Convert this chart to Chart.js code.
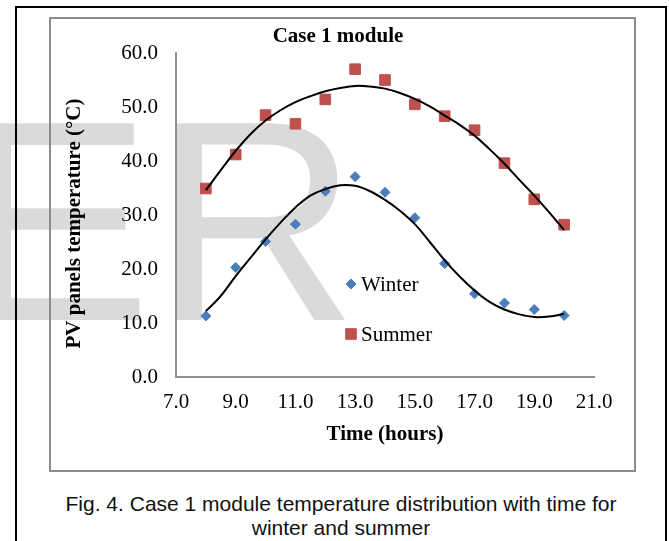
<!DOCTYPE html>
<html>
<head>
<meta charset="utf-8">
<script src="https://cdn.jsdelivr.net/npm/chart.js@4.4.1/dist/chart.umd.min.js"></script>
<style>
  html, body { margin: 0; padding: 0; background: #fff; width: 669px; height: 541px; overflow: hidden; }
  #mark { position: absolute; left: -39px; top: 78px; font: 286px/1 "Liberation Sans", Arial, sans-serif; color: #dadada; white-space: nowrap; z-index: 0; }
  #outer { position: absolute; left: 15px; top: 6px; width: 648px; height: 600px; border: 2px solid #000; z-index: 2; }
  #inner { position: absolute; left: 49px; top: 17px; width: 583px; height: 451px; border: 2px solid #8c8c8c; z-index: 2; }
  #chart { position: absolute; left: 0; top: 0; }
  .cap { position: absolute; left: 0; width: 682px; text-align: center; font: 21px "Liberation Sans", Arial, sans-serif; color: #111; z-index: 2; white-space: nowrap; }
</style>
</head>
<body>
<div id="mark">ER</div>
<div id="outer"></div>
<div id="inner"><canvas id="chart" width="583" height="451"></canvas></div>
<div class="cap" style="top:492px">Fig. 4. Case 1 module temperature distribution with time for</div>
<div class="cap" style="top:516px">winter and summer</div>
<script>
// hours of the day
const hours = [8, 9, 10, 11, 12, 13, 14, 15, 16, 17, 18, 19, 20];
// measured module temperature (°C)
const winterTemp = [11.3, 20.3, 25.1, 28.3, 34.4, 37.1, 34.2, 29.5, 21.0, 15.4, 13.7, 12.5, 11.4];
const summerTemp = [34.9, 41.2, 48.5, 46.9, 51.4, 57.0, 55.0, 50.5, 48.3, 45.7, 39.6, 32.9, 28.2];
// trend lines, every half hour
const trendHours = [8, 8.5, 9, 9.5, 10, 10.5, 11, 11.5, 12, 12.5, 13, 13.5, 14, 14.5, 15, 15.5, 16, 16.5, 17, 17.5, 18, 18.5, 19, 19.5, 20];
const winterTrend = [12.2, 15.0, 18.7, 22.1, 25.5, 28.6, 31.4, 33.6, 34.8, 35.5, 35.4, 34.4, 32.8, 30.8, 28.3, 25.0, 21.6, 18.6, 16.0, 13.9, 12.5, 11.6, 11.1, 11.2, 11.7];
const summerTrend = [34.6, 38.3, 41.9, 45.0, 47.5, 49.4, 50.9, 52.0, 52.9, 53.5, 53.9, 53.8, 53.4, 52.6, 51.5, 50.1, 48.4, 46.7, 44.7, 42.2, 39.5, 36.5, 33.6, 30.5, 27.2];
const xTicks = [7, 9, 11, 13, 15, 17, 19, 21];
const yTicks = [0, 10, 20, 30, 40, 50, 60];

const Colors = { winter: '#4a7ebb', summer: '#c0504d', trend: '#000', axis: '#8f8f8f' };
const serif = "'Liberation Serif', 'Times New Roman', serif";

const pts = (xs, ys) => xs.map((h, i) => ({ x: h, y: ys[i] }));

// title, y axis title and the in-plot legend
const extras = {
  id: 'extras',
  afterDraw(chart) {
    const ctx = chart.ctx;
    ctx.save();
    ctx.fillStyle = '#000';
    ctx.font = 'bold 21px ' + serif;
    ctx.textAlign = 'center';
    ctx.textBaseline = 'middle';
    ctx.fillText('Case 1 module', 287, 18);

    ctx.save();
    ctx.translate(23.5, 204.5);
    ctx.rotate(-Math.PI / 2);
    ctx.fillText('PV panels temperature (°C)', 0, 0);
    ctx.restore();

    const items = [
      { label: 'Winter', style: 'rectRot', r: 5, color: Colors.winter, y: 265 },
      { label: 'Summer', style: 'rect', r: 7.5, color: Colors.summer, y: 315 }
    ];
    ctx.font = '21px ' + serif;
    ctx.textAlign = 'left';
    items.forEach(it => {
      ctx.fillStyle = it.color;
      ctx.strokeStyle = it.color;
      ctx.lineWidth = 1;
      Chart.helpers.drawPoint(ctx, { pointStyle: it.style, radius: it.r, rotation: 0, borderWidth: 1 }, 300, it.y);
      ctx.fillStyle = '#000';
      ctx.fillText(it.label, 310, it.y + 1);
    });
    ctx.restore();
  }
};

new Chart(document.getElementById('chart'), {
  type: 'scatter',
  data: {
    datasets: [
      { label: 'Winter', data: pts(hours, winterTemp), pointStyle: 'rectRot', pointRadius: 5, pointHoverRadius: 5,
        backgroundColor: Colors.winter, borderColor: Colors.winter, borderWidth: 1, showLine: false, order: 1 },
      { label: 'Summer', data: pts(hours, summerTemp), pointStyle: 'rect', pointRadius: 7.5, pointHoverRadius: 7.5,
        backgroundColor: Colors.summer, borderColor: Colors.summer, borderWidth: 1, showLine: false, order: 1 },
      { label: 'Winter trend', data: pts(trendHours, winterTrend), showLine: true, pointRadius: 0, borderColor: Colors.trend,
        borderWidth: 2, tension: 0.4, fill: false, order: 0 },
      { label: 'Summer trend', data: pts(trendHours, summerTrend), showLine: true, pointRadius: 0, borderColor: Colors.trend,
        borderWidth: 2, tension: 0.4, fill: false, order: 0 }
    ]
  },
  options: {
    responsive: false,
    animation: false,
    layout: { padding: { top: 34, right: 40, bottom: 23, left: 0 } },
    plugins: { legend: { display: false }, title: { display: false }, tooltip: { enabled: false } },
    scales: {
      x: {
        type: 'linear', min: 7, max: 21,
        afterBuildTicks: (s) => { s.ticks = xTicks.map(v => ({ value: v })); },
        afterFit: (s) => { s.height = 70; },
        grid: { display: false, drawTicks: false },
        border: { display: true, color: Colors.axis, width: 2 },
        ticks: { padding: 13, color: '#000', font: { family: serif, size: 21 }, maxRotation: 0,
          callback: (v) => Number(v).toFixed(1) },
        title: { display: true, text: 'Time (hours)', color: '#000', padding: { top: 4, bottom: 0 },
          font: { family: serif, size: 21, weight: 'bold' } }
      },
      y: {
        min: 0, max: 60,
        afterBuildTicks: (s) => { s.ticks = yTicks.map(v => ({ value: v })); },
        afterFit: (s) => { s.width = 125; },
        grid: { display: false, drawTicks: false },
        border: { display: true, color: Colors.axis, width: 2 },
        ticks: { padding: 18, color: '#000', font: { family: serif, size: 21 },
          callback: (v) => Number(v).toFixed(1) },
        title: { display: false }
      }
    }
  },
  plugins: [extras]
});
</script>
</body>
</html>
